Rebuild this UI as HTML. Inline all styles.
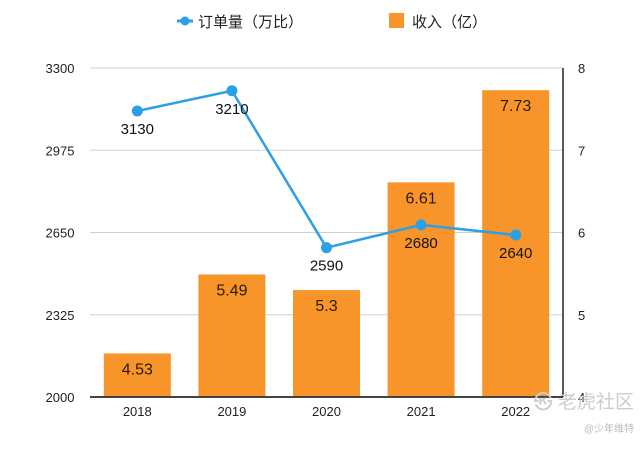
<!DOCTYPE html>
<html><head><meta charset="utf-8"><style>
body{margin:0;background:#fff;width:640px;height:444px;overflow:hidden}
svg{font-family:"Liberation Sans","Noto Sans CJK SC",sans-serif}
</style></head><body>
<svg width="640" height="444" id="c">
<g>
<g>
<line x1="177" y1="21" x2="193" y2="21" stroke="#2d9fe6" stroke-width="3"/><circle cx="185" cy="21" r="4.5" fill="#2d9fe6"/>
<text x="198" y="27" font-size="15" fill="#222">订单量（万比）</text></g>
<g>
<rect x="389" y="13" width="15" height="15" fill="#f7952a"/>
<text x="412" y="27" font-size="15" fill="#222">收入（亿）</text></g>
</g>
<g id="grid"></g><g id="bars"></g><g id="line"></g>
<line x1="90" y1="397" x2="563" y2="397" stroke="#444" stroke-width="2"/>
<line x1="563" y1="68" x2="563" y2="397" stroke="#222" stroke-width="1.5"/>
<text x="634" y="408" font-size="19" fill="#ccc" text-anchor="end">㉿ 老虎社区</text>
<text x="634" y="432" font-size="10" fill="#bbb" text-anchor="end">@少年维特</text>
</svg>
<script>
const categories=["2018","2019","2020","2021","2022"];
const orders=[3130,3210,2590,2680,2640];
const revenue=[4.53,5.49,5.3,6.61,7.73];
const leftTicks=[2000,2325,2650,2975,3300];
const rightTicks=[4,5,6,7,8];
const NS="http://www.w3.org/2000/svg";
const L=90,R=563,T=68,B=397,band=(R-L)/5;
const xc=i=>L+band*(i+0.5);
const yl=v=>B-(v-2000)/1300*(B-T);
const yr=v=>B-(v-4)/4*(B-T);
function mk(tag,attrs,parent,txt){const e=document.createElementNS(NS,tag);for(const k in attrs)e.setAttribute(k,attrs[k]);if(txt!==undefined)e.textContent=txt;document.getElementById(parent).appendChild(e);return e;}
leftTicks.forEach(v=>{
 if(v>2000){const g=mk('line',{x1:L,x2:R,y1:yl(v),y2:yl(v),stroke:'#d0d0d0','stroke-width':1},'grid');
 
 }
 const t=mk('text',{x:60,y:yl(v)+5,'font-size':13,'text-anchor':'middle',fill:'#222'},'grid',v);
 
 
});
rightTicks.forEach(v=>{
 const t=mk('text',{x:578,y:yr(v)+5,'font-size':13,fill:'#222'},'grid',v);
 
 
});
categories.forEach((c,i)=>{
 const t=mk('text',{x:xc(i),y:416,'font-size':13,'text-anchor':'middle',fill:'#222'},'grid',c);
 
 
 const y=yr(revenue[i]);
 const b=mk('rect',{x:xc(i)-33.5,y:y,width:67,height:B-y,fill:'#f7952a'},'bars');
 
 
 const bl=mk('text',{x:xc(i),y:y+21,'font-size':16,'text-anchor':'middle',fill:'#2a1a00'},'bars',revenue[i]);
 
 
});
const pts=orders.map((v,i)=>xc(i)+','+yl(v)).join(' ');
const pl=mk('polyline',{points:pts,fill:'none',stroke:'#2d9fe6','stroke-width':2.5},'line');


orders.forEach((v,i)=>{
 const p=mk('circle',{cx:xc(i),cy:yl(v),r:5.5,fill:'#2d9fe6'},'line');
 
 
 const t=mk('text',{x:xc(i),y:yl(v)+23,'font-size':15,'text-anchor':'middle',fill:'#111'},'line',v);
 
 
});
</script>
</body></html>
